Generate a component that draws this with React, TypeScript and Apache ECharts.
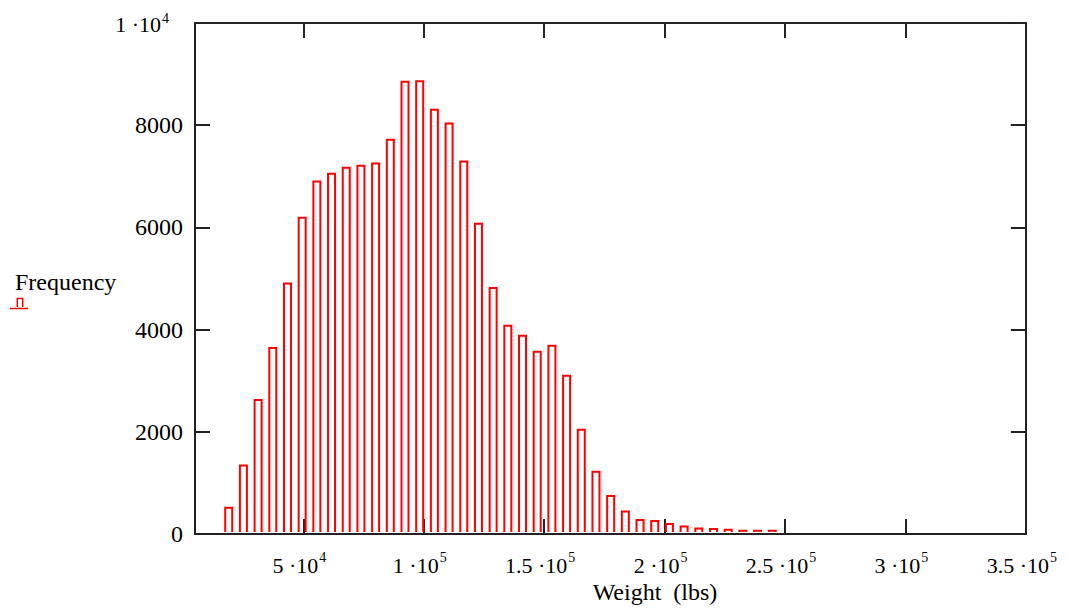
import React, { useEffect, useRef } from "react";
import * as echarts from "echarts";

// Histogram of weights (lbs): bin centres and frequency counts
const binCenters = [
  19000, 25100, 31200, 37300, 43400, 49500, 55600, 61700, 67800, 73900,
  80000, 86100, 92200, 98300, 104400, 110500, 116600, 122700, 128800, 134900,
  141000, 147100, 153200, 159300, 165400, 171500, 177600, 183700, 189800, 195900,
  202000, 208100, 214200, 220300, 226400, 232500, 238600, 244700,
];
const frequency = [
  515, 1340, 2622, 3640, 4904, 6190, 6900, 7051, 7168, 7207,
  7252, 7716, 8850, 8860, 8301, 8035, 7292, 6072, 4814, 4076,
  3880, 3567, 3685, 3098, 2041, 1219, 744, 442, 274, 255,
  196, 149, 110, 98, 84, 66, 65, 64,
];

const xMin = 5000;
const xMax = 350000;
const xTickValues = [50000, 100000, 150000, 200000, 250000, 300000, 350000];
const xTickMantissa = ["5", "1", "1.5", "2", "2.5", "3", "3.5"];
const xTickExponent = ["4", "5", "5", "5", "5", "5", "5"];

const yMin = 0;
const yMax = 10000;
const yInterval = 2000;

const xTitle = "Weight  (lbs)";
const legendLabel = "Frequency";

const FONT = "'Liberation Serif', 'Times New Roman', serif";
const AXIS_COLOR = "#222";
const BAR_COLOR = "#ff0000";

export default function App() {
  const ref = useRef<HTMLDivElement>(null);

  useEffect(() => {
    document.body.style.margin = "0";
    if (!ref.current) return;
    const chart = echarts.init(ref.current, undefined, { renderer: "svg" });

    const data = binCenters.map((c, i) => [c, frequency[i]]);

    const xLabelRich = {
      m: { fontFamily: FONT, fontSize: 22, color: "#000", lineHeight: 26, verticalAlign: "bottom" },
      s: { fontFamily: FONT, fontSize: 14, color: "#000", lineHeight: 14, verticalAlign: "top", padding: [0, 8, 0, 1] },
    };

    const option: any = {
      animation: false,
      backgroundColor: "#fff",
      textStyle: { fontFamily: FONT },
      grid: { left: 195, right: 37, top: 23, bottom: 81, containLabel: false },
      xAxis: [
        {
          type: "value",
          position: "bottom",
          min: xMin,
          max: xMax,
          axisLine: { show: true, onZero: false, lineStyle: { color: AXIS_COLOR, width: 2 } },
          axisTick: { show: true, inside: true, length: 15, customValues: xTickValues, lineStyle: { color: AXIS_COLOR, width: 2 } },
          axisLabel: {
            show: true,
            customValues: xTickValues,
            margin: 16,
            fontFamily: FONT,
            formatter: (v: number) => {
              const i = xTickValues.indexOf(v);
              if (i < 0) return "";
              return `{m|${xTickMantissa[i]} ·10}{s|${xTickExponent[i]}}`;
            },
            rich: xLabelRich,
          },
          splitLine: { show: false },
        },
        {
          type: "value",
          position: "top",
          min: xMin,
          max: xMax,
          axisLine: { show: true, onZero: false, lineStyle: { color: AXIS_COLOR, width: 2 } },
          axisTick: { show: true, inside: true, length: 15, customValues: xTickValues, lineStyle: { color: AXIS_COLOR, width: 2 } },
          axisLabel: { show: false },
          splitLine: { show: false },
        },
      ],
      yAxis: [
        {
          type: "value",
          position: "left",
          min: yMin,
          max: yMax,
          interval: yInterval,
          axisLine: { show: true, onZero: false, lineStyle: { color: AXIS_COLOR, width: 2 } },
          axisTick: { show: true, inside: true, length: 15, lineStyle: { color: AXIS_COLOR, width: 2 } },
          axisLabel: {
            show: true,
            margin: 12,
            color: "#000",
            fontFamily: FONT,
            fontSize: 24,
            formatter: (v: number) => (v === yMax ? "{m|1 ·10}{s|4}{p|}" : String(v)),
            rich: {
              m: { fontFamily: FONT, fontSize: 22, color: "#000", lineHeight: 24, verticalAlign: "bottom" },
              s: { fontFamily: FONT, fontSize: 14, color: "#000", lineHeight: 14, verticalAlign: "top", padding: [0, 0, 0, 1] },
              p: { width: 14 },
            },
          },
          splitLine: { show: false },
        },
        {
          type: "value",
          position: "right",
          min: yMin,
          max: yMax,
          interval: yInterval,
          axisLine: { show: true, onZero: false, lineStyle: { color: AXIS_COLOR, width: 2 } },
          axisTick: { show: true, inside: true, length: 15, lineStyle: { color: AXIS_COLOR, width: 2 } },
          axisLabel: { show: false },
          splitLine: { show: false },
        },
      ],
      series: [
        {
          type: "custom",
          name: legendLabel,
          xAxisIndex: 0,
          yAxisIndex: 0,
          data,
          encode: { x: 0, y: 1 },
          z: 10,
          renderItem: (params: any, api: any) => {
            const x = api.value(0);
            const y = api.value(1);
            const top = api.coord([x, y]);
            const base = api.coord([x, 0]);
            const half = 3.5;
            const by = base[1] - 2;
            return {
              type: "polyline",
              shape: {
                points: [
                  [top[0] - half, by],
                  [top[0] - half, top[1]],
                  [top[0] + half, top[1]],
                  [top[0] + half, by],
                ],
              },
              style: { stroke: BAR_COLOR, lineWidth: 2, fill: "none" },
            };
          },
        },
      ],
      graphic: [
        {
          type: "text",
          x: 655,
          y: 592,
          style: { text: xTitle, fontFamily: FONT, fontSize: 24, fill: "#000", align: "center", verticalAlign: "middle" },
        },
        {
          type: "text",
          x: 15,
          y: 282,
          style: { text: legendLabel, fontFamily: FONT, fontSize: 24, fill: "#000", align: "left", verticalAlign: "middle" },
        },
        {
          type: "polyline",
          shape: { points: [[17.3, 307], [17.3, 298.5], [22.7, 298.5], [22.7, 307]] },
          style: { stroke: BAR_COLOR, lineWidth: 1.5, fill: "none" },
        },
        {
          type: "line",
          shape: { x1: 10, y1: 308.5, x2: 28, y2: 308.5 },
          style: { stroke: BAR_COLOR, lineWidth: 1.5 },
        },
      ],
    };

    chart.setOption(option);
    return () => chart.dispose();
  }, []);

  return <div ref={ref} style={{ width: 1068, height: 615 }} />;
}
